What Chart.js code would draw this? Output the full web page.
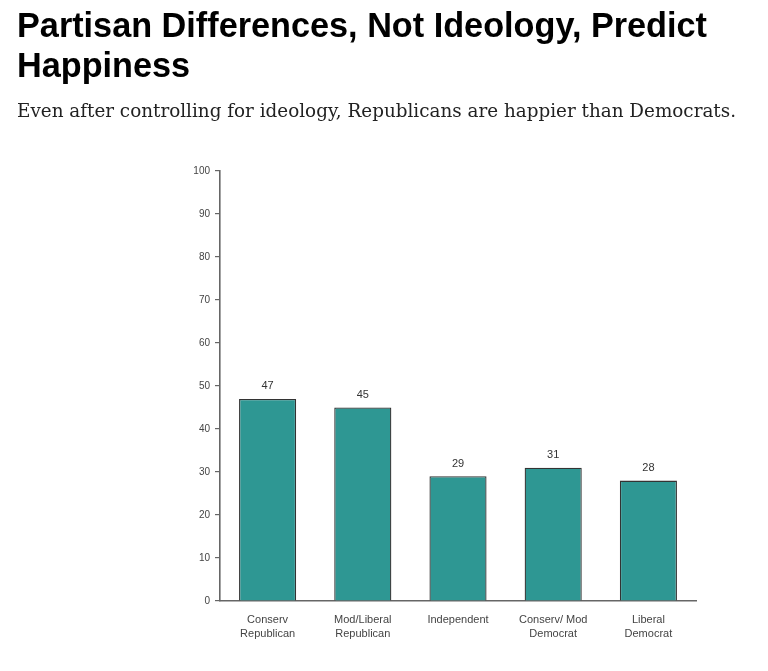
<!DOCTYPE html>
<html><head><meta charset="utf-8">
<script src="https://cdn.jsdelivr.net/npm/chart.js@4/dist/chart.umd.min.js"></script>
<style>
html,body{margin:0;padding:0;background:#fff;width:768px;height:671px;overflow:hidden;position:relative}
#t{position:absolute;left:17px;top:5px;font-family:"Liberation Sans",Arial,sans-serif;font-weight:bold;font-size:35px;line-height:40px;color:#000;margin:0;transform-origin:0 0;white-space:nowrap}
#s{position:absolute;left:17px;top:100px;font-family:"DejaVu Serif","Liberation Serif",serif;font-size:18px;line-height:21px;color:#222;margin:0;white-space:nowrap;transform-origin:0 0}
#c{position:absolute;left:0;top:0}
</style></head><body>
<canvas id="c" width="768" height="671"></canvas>
<div id="t"><span id="t1">Partisan Differences, Not Ideology, Predict</span><br>Happiness</div>
<div id="s"><span id="s1">Even after controlling for ideology, Republicans are happier than Democrats.</span></div>
<script>
const categories = [["Conserv","Republican"],["Mod/Liberal","Republican"],["Independent"],["Conserv/ Mod","Democrat"],["Liberal","Democrat"]];
const values = [47,45,29,31,28];
const yTicks = [0,10,20,30,40,50,60,70,80,90,100];

// fit header text widths to the reference
(function(){
  const t1=document.getElementById('t1'), s1=document.getElementById('s1');
  const tw=t1.getBoundingClientRect().width; document.getElementById('t').style.transform='scaleX('+(690/tw)+')';
  const sw=s1.getBoundingClientRect().width; document.getElementById('s').style.transform='scaleX('+(719/sw)+')';
})();

const valueLabels = {
  id:'valueLabels',
  afterDatasetsDraw(chart){
    const ctx = chart.ctx;
    const meta = chart.getDatasetMeta(0);
    ctx.save();
    ctx.font = '11px "Liberation Sans", Arial, sans-serif';
    ctx.fillStyle = '#333';
    ctx.textAlign = 'center';
    ctx.textBaseline = 'bottom';
    meta.data.forEach((bar,i)=>{
      ctx.fillText(String(values[i]), bar.x, bar.y - 7);
    });
    ctx.restore();
  }
};

new Chart(document.getElementById('c'),{
  type:'bar',
  data:{labels:categories,datasets:[{data:values,backgroundColor:'#2e9793',borderColor:'#333',borderWidth:1.3,borderSkipped:'bottom',categoryPercentage:1,barPercentage:0.6}]},
  options:{
    responsive:false,animation:false,
    layout:{padding:{left:160,right:72,top:171,bottom:20}},
    plugins:{legend:{display:false},tooltip:{enabled:false},title:{display:false}},
    scales:{
      x:{
        grid:{display:false,drawTicks:false},
        border:{display:true,color:'#666',width:1.6},
        ticks:{color:'#444',font:{family:'"Liberation Sans", Arial, sans-serif',size:11,lineHeight:1.36},padding:11,maxRotation:0,autoSkip:false},
        afterFit(s){s.height=50;}
      },
      y:{
        min:0,max:100,
        afterBuildTicks(s){s.ticks=yTicks.map(v=>({value:v}));},
        grid:{display:true,drawOnChartArea:false,drawTicks:true,tickLength:5,color:'#666',lineWidth:1.2},
        border:{display:true,color:'#666',width:1.6},
        ticks:{color:'#444',font:{family:'"Liberation Sans", Arial, sans-serif',size:10},padding:5},
        afterFit(s){s.width=60;}
      }
    }
  },
  plugins:[valueLabels]
});
</script>
</body></html>
